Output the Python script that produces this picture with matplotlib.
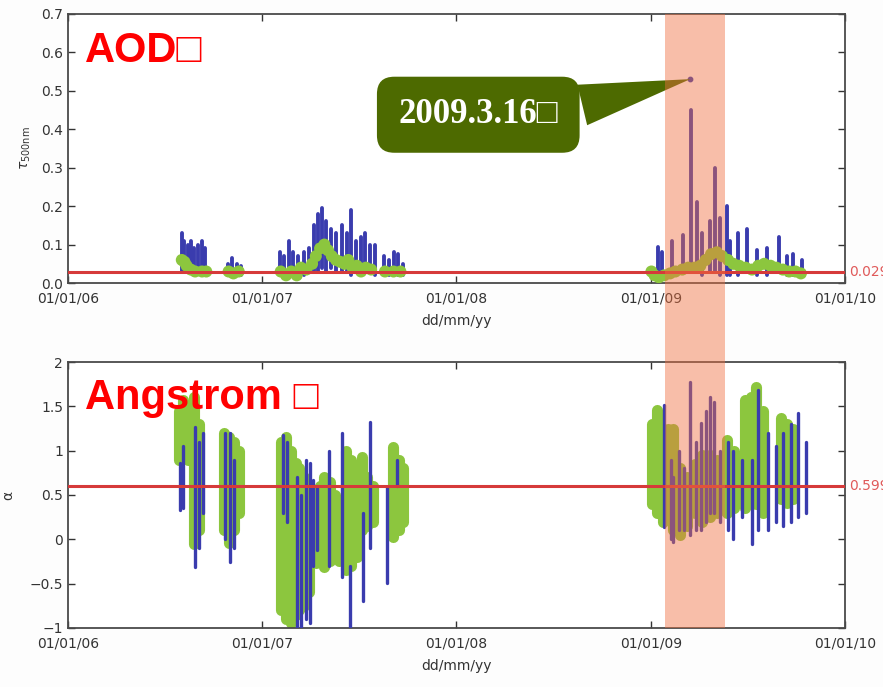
import matplotlib
matplotlib.use('Agg')
import matplotlib.pyplot as plt
import matplotlib.dates as mdates
import matplotlib.transforms as mtransforms
from matplotlib.patches import Rectangle
import pandas as pd

# ---- AOD panel (top) ----
# blue dots: dense columns, given as date / lowest / highest value
aod_blue_date = ['2006-08-03', '2006-08-08', '2006-08-14', '2006-08-20', '2006-08-26', '2006-09-02',
                 '2006-09-10', '2006-09-16', '2006-10-28', '2006-11-05', '2006-11-14', '2006-11-22',
                 '2007-02-03', '2007-02-12', '2007-02-20', '2007-03-01', '2007-03-10', '2007-03-20',
                 '2007-03-30', '2007-04-08', '2007-04-16', '2007-04-24', '2007-05-02', '2007-05-10',
                 '2007-05-20', '2007-06-01', '2007-06-09', '2007-06-18', '2007-06-27', '2007-07-06',
                 '2007-07-14', '2007-07-22', '2007-08-01', '2007-08-18', '2007-08-28', '2007-09-06',
                 '2007-09-14', '2007-09-22',
                 '2009-01-14', '2009-01-22', '2009-02-10', '2009-03-03', '2009-03-18', '2009-03-28',
                 '2009-04-07', '2009-04-22', '2009-05-01', '2009-05-11', '2009-05-24', '2009-05-30',
                 '2009-06-14', '2009-07-01', '2009-07-20', '2009-08-08', '2009-08-29', '2009-09-14',
                 '2009-09-26', '2009-10-12']
aod_blue_lo = [0.03, 0.03, 0.04, 0.03, 0.02, 0.03, 0.02, 0.03, 0.02, 0.02, 0.02, 0.02,
               0.02, 0.02, 0.02, 0.02, 0.02, 0.02, 0.03, 0.03, 0.03, 0.04, 0.03, 0.04,
               0.03, 0.03, 0.03, 0.02, 0.03, 0.02, 0.03, 0.03, 0.02, 0.02, 0.02, 0.03,
               0.02, 0.02,
               0.02, 0.02, 0.02, 0.03, 0.03, 0.03, 0.02, 0.03, 0.03, 0.02, 0.02, 0.02,
               0.02, 0.03, 0.02, 0.02, 0.03, 0.02, 0.02, 0.02]
aod_blue_hi = [0.13, 0.11, 0.10, 0.11, 0.09, 0.10, 0.11, 0.09, 0.05, 0.065, 0.05, 0.045,
               0.08, 0.07, 0.11, 0.08, 0.07, 0.08, 0.09, 0.15, 0.18, 0.195, 0.16, 0.14,
               0.13, 0.15, 0.13, 0.19, 0.11, 0.12, 0.13, 0.10, 0.10, 0.07, 0.06, 0.08,
               0.075, 0.05,
               0.094, 0.08, 0.11, 0.125, 0.45, 0.21, 0.13, 0.16, 0.30, 0.17, 0.20, 0.11,
               0.13, 0.14, 0.085, 0.09, 0.12, 0.07, 0.075, 0.06]

# green circles
aod_green_date = ['2006-08-03', '2006-08-08', '2006-08-12', '2006-08-20', '2006-08-28', '2006-09-10',
                  '2006-09-18', '2006-10-30', '2006-11-08', '2006-11-18',
                  '2007-02-05', '2007-02-15', '2007-02-25', '2007-03-07', '2007-03-15', '2007-03-25',
                  '2007-04-05', '2007-04-12', '2007-04-20', '2007-04-28', '2007-05-05', '2007-05-12',
                  '2007-05-20', '2007-05-28', '2007-06-05', '2007-06-12', '2007-06-20', '2007-06-28',
                  '2007-07-06', '2007-07-15', '2007-07-25', '2007-08-20', '2007-09-05', '2007-09-18',
                  '2009-01-02', '2009-01-08', '2009-01-16', '2009-01-26', '2009-02-06', '2009-02-16',
                  '2009-03-01', '2009-03-12', '2009-03-24', '2009-04-04', '2009-04-14', '2009-04-24',
                  '2009-05-05', '2009-05-15', '2009-05-26', '2009-06-05', '2009-06-16', '2009-06-28',
                  '2009-07-10', '2009-07-22', '2009-08-02', '2009-08-14', '2009-08-25', '2009-09-06',
                  '2009-09-18', '2009-09-30', '2009-10-10']
aod_green_val = [0.06, 0.055, 0.045, 0.035, 0.03, 0.03, 0.03, 0.03, 0.025, 0.03,
                 0.03, 0.02, 0.03, 0.02, 0.04, 0.035,
                 0.05, 0.07, 0.09, 0.10, 0.085, 0.07, 0.06, 0.055, 0.05, 0.06, 0.04, 0.045,
                 0.03, 0.04, 0.035, 0.03, 0.03, 0.03,
                 0.03, 0.02, 0.015, 0.02, 0.025, 0.03, 0.035, 0.04, 0.04, 0.045, 0.06, 0.075,
                 0.08, 0.07, 0.06, 0.05, 0.045, 0.04, 0.035, 0.045, 0.05, 0.045, 0.04, 0.035,
                 0.03, 0.03, 0.025]
aod_mean = 0.029
peak_date = '2009-03-16'
peak_val = 0.53

# ---- Angstrom panel (bottom) ----
alpha_blue_date = ['2006-07-30', '2006-08-05', '2006-08-28', '2006-09-04', '2006-09-12', '2006-10-24',
                   '2006-11-01', '2006-11-10',
                   '2007-02-10', '2007-02-17', '2007-03-08', '2007-03-16', '2007-03-24', '2007-04-01',
                   '2007-04-06', '2007-04-15', '2007-05-06', '2007-06-01', '2007-06-16', '2007-07-09',
                   '2007-07-23', '2007-08-24', '2007-09-11',
                   '2009-01-25', '2009-02-08', '2009-02-12', '2009-02-22', '2009-03-05', '2009-03-16',
                   '2009-03-26', '2009-04-06', '2009-04-14', '2009-04-22', '2009-04-30', '2009-05-10',
                   '2009-05-26', '2009-06-05', '2009-06-22', '2009-07-10', '2009-07-22', '2009-08-10',
                   '2009-08-24', '2009-09-06', '2009-09-21', '2009-10-04', '2009-10-19']
alpha_blue_lo = [0.33, 0.35, -0.31, -0.1, 0.3, 0.0, -0.26, -0.1,
                 0.3, 0.2, -1.0, -1.0, -0.9, -0.95, -0.3, -0.12, -0.3, -0.42, -1.0, -0.7,
                 -0.1, -0.49, 0.6,
                 0.14, 0.0, -0.03, 0.1, 0.1, 0.05, 0.1, 0.1, 0.2, 0.3, 0.3, 0.2,
                 0.1, 0.0, 0.25, -0.05, 0.1, 0.1, 0.2, 0.15, 0.2, 0.25, 0.3]
alpha_blue_hi = [0.86, 1.05, 1.27, 1.1, 1.2, 1.2, 1.2, 0.9,
                 1.18, 1.1, 0.7, 0.5, 0.9, 0.86, 0.67, 0.6, 1.0, 1.2, -0.3, 0.3,
                 1.32, 0.59, 0.9,
                 1.51, 0.9, 0.7, 1.0, 0.8, 1.78, 1.1, 1.31, 1.45, 1.6, 1.55, 1.0,
                 1.1, 1.0, 0.9, 0.9, 1.68, 1.2, 1.05, 1.2, 1.3, 1.42, 1.1]

alpha_green_date = ['2006-07-28', '2006-08-06', '2006-08-14', '2006-08-26', '2006-09-04',
                    '2006-10-22', '2006-10-31', '2006-11-09', '2006-11-18',
                    '2007-02-06', '2007-02-15', '2007-02-24', '2007-03-05', '2007-03-12', '2007-03-20',
                    '2007-03-30', '2007-04-05', '2007-04-12', '2007-04-20', '2007-04-28', '2007-05-08',
                    '2007-05-18', '2007-05-26', '2007-06-08', '2007-06-18', '2007-06-28', '2007-07-08',
                    '2007-07-18', '2007-07-28', '2007-09-05', '2007-09-15', '2007-09-22',
                    '2009-01-03', '2009-01-13', '2009-01-23', '2009-02-02', '2009-02-12', '2009-02-25',
                    '2009-03-10', '2009-03-25', '2009-04-08', '2009-04-22', '2009-05-06', '2009-05-18',
                    '2009-05-24', '2009-06-06', '2009-06-26', '2009-07-08', '2009-07-18', '2009-07-30',
                    '2009-09-02', '2009-09-14', '2009-09-26']
alpha_green_lo = [0.9, 0.95, 0.9, -0.05, 0.1, 0.1, -0.04, 0.1, 0.3,
                  -0.8, -0.9, -0.94, -0.85, -0.8, -0.75, -0.6, -0.2, -0.27, -0.2, -0.31, -0.25,
                  -0.2, -0.25, -0.35, -0.3, -0.2, 0.1, 0.15, 0.2, 0.03, 0.1, 0.2,
                  0.4, 0.3, 0.2, 0.25, 0.1, 0.05, 0.15, 0.3, 0.2, 0.25, 0.3, 0.4,
                  0.3, 0.35, 0.35, 0.4, 0.4, 0.3, 0.45, 0.41, 0.45]
alpha_green_hi = [1.45, 1.57, 1.3, 1.6, 1.3, 1.2, 1.15, 1.1, 1.0,
                  1.1, 1.15, 1.0, 0.86, 0.8, 0.7, 0.5, 0.36, 0.3, 0.6, 0.7, 0.65,
                  0.5, 0.4, 1.0, 0.9, 0.8, 0.93, 0.7, 0.6, 1.04, 0.9, 0.8,
                  1.3, 1.46, 1.2, 1.25, 1.25, 0.8, 0.7, 0.85, 0.95, 0.95, 0.9, 0.9,
                  1.12, 1.0, 1.57, 1.6, 1.72, 1.45, 1.37, 1.3, 1.25]
alpha_mean = 0.599

span_start = '2009-01-27'
span_end = '2009-05-21'

blue = '#3a3cae'
green = '#8cc63e'
red = '#d63a3a'
tick_col = '#333333'

fig = plt.figure(figsize=(8.83, 6.87), dpi=100)
fig.patch.set_facecolor('#fdfdfd')
ax1 = fig.add_axes([0.077, 0.588, 0.880, 0.392])
ax2 = fig.add_axes([0.077, 0.086, 0.880, 0.387])

xmin, xmax = pd.Timestamp('2006-01-01'), pd.Timestamp('2010-01-01')

# top panel
ax1.vlines(pd.to_datetime(aod_blue_date), aod_blue_lo, aod_blue_hi, color=blue, lw=2.8,
           capstyle='round', zorder=2)
ax1.scatter(pd.to_datetime(aod_green_date), aod_green_val, s=75, color=green, edgecolors='none',
            zorder=3)
ax1.scatter(pd.to_datetime([peak_date]), [peak_val], s=10, color=blue, zorder=3)
ax1.axhline(aod_mean, color=red, lw=2.2, zorder=4)
ax1.set_ylim(0, 0.7)
ax1.set_ylabel(r'$\tau_{\rm 500nm}$', fontsize=10, color=tick_col, labelpad=6)
ax1.text(1.005, aod_mean, '0.029', transform=ax1.get_yaxis_transform(), color='#e05a5a',
         fontsize=10, va='center', ha='left')
ax1.text(0.022, 0.86, 'AOD\u25a1', transform=ax1.transAxes, color='#ff0000', fontsize=30,
         fontweight='bold', va='center', ha='left', family=['Liberation Sans', 'DejaVu Sans'])

# bottom panel
ax2.vlines(pd.to_datetime(alpha_green_date), alpha_green_lo, alpha_green_hi, color=green, lw=8,
           capstyle='round', zorder=2)
ax2.vlines(pd.to_datetime(alpha_blue_date), alpha_blue_lo, alpha_blue_hi, color=blue, lw=2.4,
           capstyle='round', zorder=3)
ax2.axhline(alpha_mean, color=red, lw=2.2, zorder=4)
ax2.set_ylim(-1, 2)
ax2.set_yticks([-1, -0.5, 0, 0.5, 1, 1.5, 2])
ax2.set_yticklabels(['\u22121', '\u22120.5', '0', '0.5', '1', '1.5', '2'])
ax2.set_ylabel('\u03b1', fontsize=10, color=tick_col, labelpad=10)
ax2.text(1.005, alpha_mean, '0.599', transform=ax2.get_yaxis_transform(), color='#e05a5a',
         fontsize=10, va='center', ha='left')
ax2.text(0.022, 0.865, 'Angstrom \u25a1', transform=ax2.transAxes, color='#ff0000', fontsize=30,
         fontweight='bold', va='center', ha='left', family=['Liberation Sans', 'DejaVu Sans'])

for ax in (ax1, ax2):
    ax.set_xlim(xmin, xmax)
    ax.xaxis.set_major_locator(mdates.YearLocator())
    ax.xaxis.set_major_formatter(mdates.DateFormatter('%d/%m/%y'))
    ax.set_xlabel('dd/mm/yy', fontsize=10, color=tick_col, labelpad=6)
    ax.tick_params(direction='in', top=True, right=True, labelsize=10, colors=tick_col,
                   length=5, width=1)
    ax.tick_params(axis='x', pad=6)
    for s in ax.spines.values():
        s.set_color('#4a4a4a')
        s.set_linewidth(1.3)
    ax.set_facecolor('white')

# shaded period over both panels
x0 = mdates.date2num(pd.Timestamp(span_start))
x1 = mdates.date2num(pd.Timestamp(span_end))
trans = mtransforms.blended_transform_factory(ax1.transData, fig.transFigure)
fig.add_artist(Rectangle((x0, 0.086), x1 - x0, 0.980 - 0.086, transform=trans,
                         facecolor='#f07040', alpha=0.45, edgecolor='none', zorder=5))

# callout
ax1.annotate('2009.3.16\u25a1', xy=(mdates.date2num(pd.Timestamp(peak_date)), peak_val),
             xytext=(0.528, 0.625), textcoords='axes fraction', color='white', fontsize=25,
             fontweight='bold', ha='center', va='center',
             family=['Liberation Serif', 'DejaVu Sans'],
             bbox=dict(boxstyle='round,pad=0.62,rounding_size=0.5', fc='#4d6a00', ec='none'),
             arrowprops=dict(arrowstyle='wedge,tail_width=1.2', fc='#4d6a00', ec='none',
                             relpos=(1.0, 0.62), shrinkB=0),
             zorder=10)

fig.savefig('out.png', dpi=100, facecolor=fig.get_facecolor())
